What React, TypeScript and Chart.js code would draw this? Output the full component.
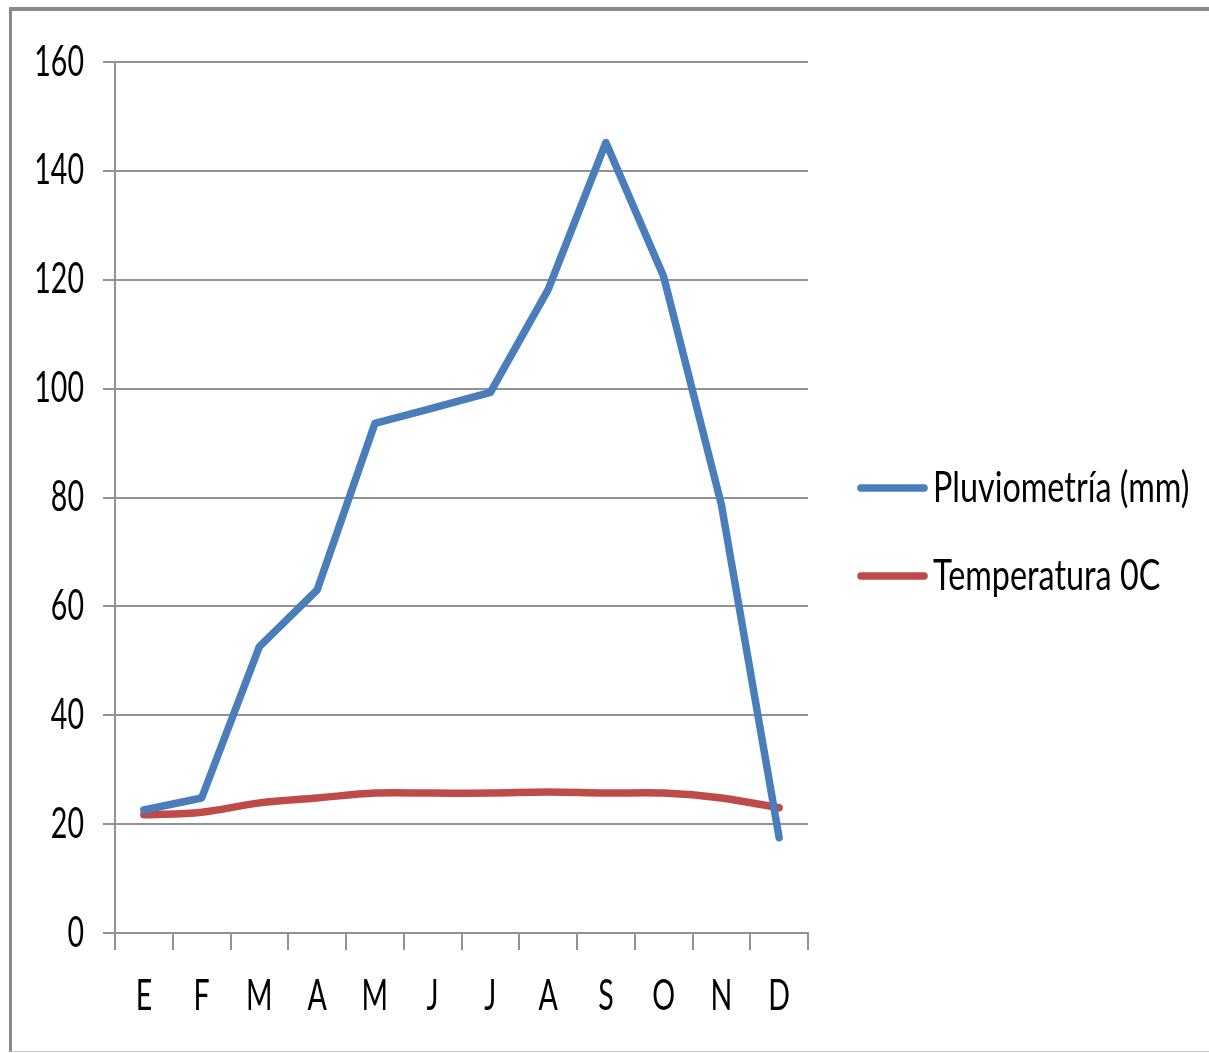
import React, { useEffect, useRef } from "react";
import { Chart, registerables } from "chart.js";

Chart.register(...registerables);

// Monthly climate data
const months = ["E", "F", "M", "A", "M", "J", "J", "A", "S", "O", "N", "D"];
const rainfallMm = [22.6, 24.8, 52.6, 63, 93.6, 96.4, 99.3, 118.2, 145.2, 120.6, 78.7, 17.5];
const temperatureC = [21.7, 22.2, 23.9, 24.8, 25.7, 25.7, 25.7, 25.9, 25.7, 25.7, 24.8, 23];
const seriesNames = ["Pluviometría (mm)", "Temperatura 0C"];
const seriesColors = ["#4a7ebb", "#be4b48"];
const yTicks = [0, 20, 40, 60, 80, 100, 120, 140, 160];

const FONT = "Lato, 'Liberation Sans', sans-serif";
const FONT_SIZE = 42;
const GRID = "#929292";
const AXIS_SQUEEZE = 0.68; // narrow lettering for the axis labels
const LEGEND_SQUEEZE = 0.77;

// Draws condensed text by scaling the context horizontally around the anchor point
function narrowText(ctx: CanvasRenderingContext2D, text: string, x: number, y: number, sx: number, align: CanvasTextAlign) {
  ctx.save();
  ctx.translate(x, y);
  ctx.scale(sx, 1);
  ctx.textAlign = align;
  ctx.textBaseline = "middle";
  ctx.fillText(text, 0, 0);
  ctx.restore();
}

// Axis labels with condensed lettering
const narrowAxisLabels = {
  id: "narrowAxisLabels",
  afterDraw(chart: any) {
    const { ctx, chartArea } = chart;
    const x = chart.scales.x;
    const y = chart.scales.y;
    ctx.save();
    ctx.fillStyle = "#000";
    ctx.font = `${FONT_SIZE}px ${FONT}`;
    y.ticks.forEach((t: any) => {
      narrowText(ctx, String(t.value), chartArea.left - 12 - 19, y.getPixelForValue(t.value), AXIS_SQUEEZE, "right");
    });
    (chart.data.labels as string[]).forEach((lab, i) => {
      narrowText(ctx, lab, x.getPixelForValue(i), chartArea.bottom + 63, AXIS_SQUEEZE, "center");
    });
    ctx.restore();
  },
};

// Legend drawn to the right of the plot area: a thick line sample followed by the series name
const sideLegend = {
  id: "sideLegend",
  afterDraw(chart: any) {
    const { ctx, chartArea } = chart;
    const sets = chart.data.datasets;
    const spacing = 88;
    const x0 = chartArea.right + 53;
    const midY = chart.height / 2 + 5.5;
    ctx.save();
    sets.forEach((ds: any, i: number) => {
      const yy = midY + (i - (sets.length - 1) / 2) * spacing;
      ctx.beginPath();
      ctx.strokeStyle = ds.borderColor;
      ctx.lineWidth = 7.5;
      ctx.lineCap = "round";
      ctx.moveTo(x0, yy);
      ctx.lineTo(x0 + 63, yy);
      ctx.stroke();
      ctx.fillStyle = "#000";
      ctx.font = `${FONT_SIZE}px ${FONT}`;
      narrowText(ctx, ds.label, x0 + 72, yy, LEGEND_SQUEEZE, "left");
    });
    ctx.restore();
  },
};

export default function App() {
  const canvasRef = useRef<HTMLCanvasElement | null>(null);

  useEffect(() => {
    if (!canvasRef.current) return;
    const chart = new Chart(canvasRef.current, {
      type: "line",
      data: {
        labels: months,
        datasets: [
          {
            label: seriesNames[0],
            data: rainfallMm,
            borderColor: seriesColors[0],
            backgroundColor: seriesColors[0],
            borderWidth: 7.5,
            pointRadius: 0,
            tension: 0,
            borderJoinStyle: "round",
            borderCapStyle: "round",
          },
          {
            label: seriesNames[1],
            data: temperatureC,
            borderColor: seriesColors[1],
            backgroundColor: seriesColors[1],
            borderWidth: 7.5,
            pointRadius: 0,
            tension: 0.35,
            borderJoinStyle: "round",
            borderCapStyle: "round",
          },
        ],
      },
      options: {
        responsive: false,
        animation: false,
        layout: { padding: { top: 62, right: 401, bottom: 0, left: 0 } },
        plugins: {
          legend: { display: false },
          tooltip: { enabled: false },
        },
        scales: {
          x: {
            offset: true,
            grid: {
              offset: true,
              drawOnChartArea: false,
              drawTicks: true,
              tickLength: 17,
              color: GRID,
              lineWidth: 2,
            },
            border: { display: true, color: GRID, width: 2 },
            ticks: { display: false, autoSkip: false },
            afterFit(scale: any) {
              scale.height = 120;
            },
          },
          y: {
            min: 0,
            max: 160,
            afterBuildTicks(scale: any) {
              scale.ticks = yTicks.map((v) => ({ value: v }));
            },
            grid: {
              color: GRID,
              lineWidth: 2,
              tickLength: 12,
            },
            border: { display: true, color: GRID, width: 2 },
            ticks: { display: false },
            afterFit(scale: any) {
              scale.width = 115;
            },
          },
        },
      },
      plugins: [narrowAxisLabels, sideLegend],
    });
    return () => chart.destroy();
  }, []);

  return (
    <div
      style={{
        position: "absolute",
        left: 0,
        top: 0,
        width: 1209,
        height: 1053,
        background: "#fff",
        overflow: "hidden",
      }}
    >
      <div
        style={{
          position: "absolute",
          left: 9,
          top: 7,
          right: -20,
          bottom: 1,
          borderLeft: "3px solid #8a8a8a",
          borderTop: "4px solid #8a8a8a",
          borderBottom: "1px solid #c4c4c4",
        }}
      />
      <canvas
        ref={canvasRef}
        width={1209}
        height={1053}
        style={{ position: "absolute", left: 0, top: 0, display: "block" }}
      />
    </div>
  );
}
